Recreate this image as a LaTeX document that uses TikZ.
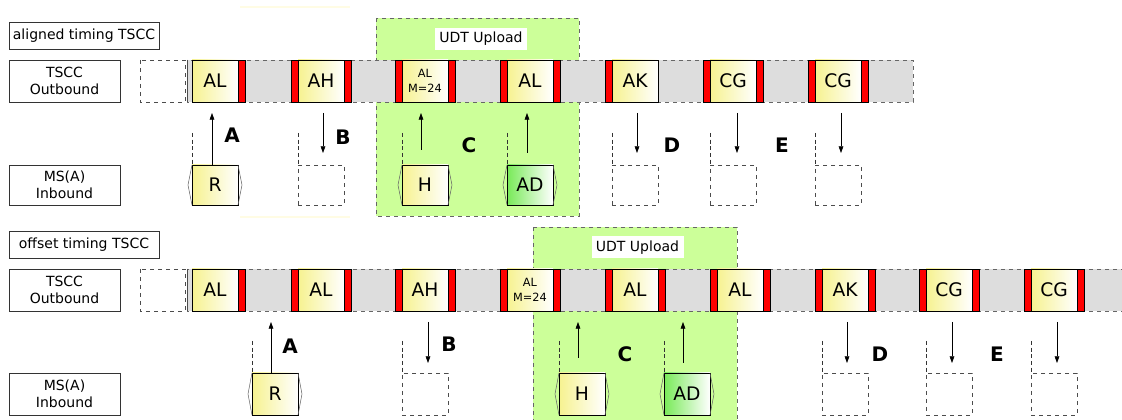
\documentclass[tikz,border=0pt]{standalone}
\usepackage{fontspec}
\setmainfont{DejaVu Sans}
\usetikzlibrary{arrows.meta}
\definecolor{lgreen}{HTML}{CCFF99}
\definecolor{barg}{HTML}{DDDDDD}
\definecolor{ylw}{HTML}{F6F290}
\definecolor{grn}{HTML}{78EA58}
\definecolor{fyel}{HTML}{FFFCE4}
\begin{document}
\begin{tikzpicture}[x=0.75pt,y=-0.75pt,
 lbl/.style={draw=black!80, fill=white, inner sep=0pt, outer sep=0pt, align=center, font=\fontsize{10.5}{12.5}\selectfont},
 ybox/.style={draw=black, left color=ylw, right color=white, minimum width=34.5pt, minimum height=31.5pt, inner sep=0pt, outer sep=0pt, font=\fontsize{14}{16}\selectfont},
 msbox/.style={ybox, minimum height=30pt},
 msbox2/.style={ybox, minimum height=31.5pt},
 gbox/.style={left color=grn},
 redbar/.style={fill=red, draw=black, line width=0.4pt},
 barstyle/.style={fill=barg, draw=black!60, dashed, line width=0.6pt},
 dbox/.style={draw=black!70, dashed, line width=0.6pt, minimum width=34.5pt, inner sep=0pt, outer sep=0pt},
 dline/.style={draw=black!80, densely dashed, line width=0.5pt},
 chev/.style={draw=black!60, line width=0.4pt},
 arr/.style={-{Triangle[length=5pt,width=3.5pt]}, line width=0.5pt},
 letter/.style={font=\bfseries\fontsize{15}{17}\selectfont},
 garea/.style={fill=lgreen, draw=black!60, dashed, line width=0.6pt},
 udt/.style={fill=white, inner sep=0pt, minimum width=69pt, minimum height=16.5pt, font=\fontsize{10.5}{12}\selectfont},
]
\useasboundingbox (0,0) rectangle (1122,420);
\clip (0,0) rectangle (1122,420);

% faint yellow lines
\fill[fyel] (240,6) rectangle (350,8);
\fill[fyel] (240,216) rectangle (350,218);

% green areas
\draw[garea] (376,18) rectangle (579,216);
\node[udt] (udt1) at (481,39) {UDT Upload};
\draw[garea] (533,227) rectangle (737,425);
\node[udt] (udt2) at (637.5,247.5) {UDT Upload};

% labels
\node[lbl, minimum width=112.5pt, minimum height=20.25pt] (lab1) at (84,35.5) {aligned timing TSCC};
\node[lbl, minimum width=83.25pt, minimum height=31.5pt] (out1) at (64.5,81) {TSCC\\Outbound};
\node[lbl, minimum width=83.25pt, minimum height=30pt] (in1) at (64.5,185) {MS(A)\\Inbound};
\node[lbl, minimum width=112.5pt, minimum height=20.25pt] (lab2) at (84,244.5) {offset timing TSCC};
\node[lbl, minimum width=83.25pt, minimum height=31.5pt] (out2) at (64.5,290) {TSCC\\Outbound};
\node[lbl, minimum width=83.25pt, minimum height=31.5pt] (in2) at (64.5,394) {MS(A)\\Inbound};

% ===== top bar =====
\draw[barstyle] (187,60) rectangle (913,102);
\draw[dbox] (140,60) rectangle (185,102);
\draw[black!70, line width=0.5pt] (187.5,60) -- (187.5,102);
\foreach \x/\t/\n/\l/\r in {192/AL/s1/0/1, 298/AH/s2/1/1, 507/AL/s4/1/1, 612/AK/s5/1/0, 710/CG/s6/1/1, 815/CG/s7/1/1}{
  \ifnum\l=1 \filldraw[redbar] (\x-7,60) rectangle (\x,102); \fi
  \ifnum\r=1 \filldraw[redbar] (\x+46,60) rectangle (\x+53,102); \fi
  \node[ybox, anchor=north west] (t\n) at (\x,60) {\t};
}
\filldraw[redbar] (395,60) rectangle (402,102);
\filldraw[redbar] (448,60) rectangle (455,102);
\node[ybox, anchor=north west, align=center, font=\fontsize{8.5}{11.5}\selectfont] (ts3) at (402,60) {AL\\M=24};

% ===== bottom bar =====
\draw[barstyle] (187,269) rectangle (1130,311);
\draw[dbox] (140,269) rectangle (185,311);
\draw[black!70, line width=0.5pt] (187.5,269) -- (187.5,311);
\foreach \x/\t/\n/\l in {192/AL/s1/0, 298/AL/s2/1, 402/AH/s3/1, 612/AL/s5/1, 717/AL/s6/1, 822/AK/s7/1, 926/CG/s8/1, 1031/CG/s9/1}{
  \ifnum\l=1 \filldraw[redbar] (\x-7,269) rectangle (\x,311); \fi
  \filldraw[redbar] (\x+46,269) rectangle (\x+53,311);
  \node[ybox, anchor=north west] (b\n) at (\x,269) {\t};
}
\filldraw[redbar] (500,269) rectangle (507,311);
\filldraw[redbar] (553,269) rectangle (560,311);
\node[ybox, anchor=north west, align=center, font=\fontsize{8.5}{11.5}\selectfont] (bs4) at (507,269) {AL\\M=24};

% ===== top MS row =====
\foreach \x in {192,298,402,507,612,710,815}{
  \draw[dline] (\x,133) -- (\x,165);
}
\node[msbox, anchor=north west] (m1R) at (192,165) {R};
\node[msbox, anchor=north west] (m1H) at (402,165) {H};
\node[msbox, gbox, anchor=north west] (m1AD) at (507,165) {AD};
\foreach \n in {m1R,m1H,m1AD}{
  \draw[chev] (\n.north west) -- ([xshift=-3pt]\n.west) -- (\n.south west);
  \draw[chev] (\n.north east) -- ([xshift=3pt]\n.east) -- (\n.south east);
}
\foreach \x/\n in {298/m1B,612/m1D,710/m1E,815/m1F}{
  \node[dbox, minimum height=30pt, anchor=north west] (\n) at (\x,165) {};
}

% ===== bottom MS row =====
\foreach \x in {252,402,559,664,822,926,1031}{
  \draw[dline] (\x,341) -- (\x,373);
}
\node[msbox2, anchor=north west] (m2R) at (252,373) {R};
\node[msbox2, anchor=north west] (m2H) at (559,373) {H};
\node[msbox2, gbox, anchor=north west] (m2AD) at (664,373) {AD};
\foreach \n in {m2R,m2H,m2AD}{
  \draw[chev] (\n.north west) -- ([xshift=-3pt]\n.west) -- (\n.south west);
  \draw[chev] (\n.north east) -- ([xshift=3pt]\n.east) -- (\n.south east);
}
\foreach \x/\n in {402/m2B,822/m2D,926/m2E,1031/m2F}{
  \node[dbox, minimum height=31.5pt, anchor=north west] (\n) at (\x,373) {};
}

% ===== top arrows =====
\coordinate (a1A) at (212,113);
\draw[arr] (m1R.north -| a1A) -- (a1A);
\coordinate (a1Hb) at (421,150); \coordinate (a1Ht) at (421,113);
\draw[arr] (a1Hb) -- (a1Ht);
\coordinate (a1ADb) at (527,153); \coordinate (a1ADt) at (527,113);
\draw[arr] (a1ADb) -- (a1ADt);
\foreach \x/\n in {323/B,637/D,737/E,841/F}{
  \coordinate (a1\n t) at (\x,113); \coordinate (a1\n b) at (\x,153);
  \draw[arr] (a1\n t) -- (a1\n b);
}
\node[letter] (l1A) at (232,135) {A};
\node[letter] (l1B) at (343,137) {B};
\node[letter] (l1C) at (469,145) {C};
\node[letter] (l1D) at (672,145) {D};
\node[letter] (l1E) at (782,145) {E};

% ===== bottom arrows =====
\coordinate (a2A) at (271,322);
\draw[arr] (m2R.north -| a2A) -- (a2A);
\coordinate (a2Hb) at (578,358); \coordinate (a2Ht) at (578,322);
\draw[arr] (a2Hb) -- (a2Ht);
\coordinate (a2ADb) at (683,363); \coordinate (a2ADt) at (683,322);
\draw[arr] (a2ADb) -- (a2ADt);
\foreach \x/\n in {428/B,847/D,952/E,1057/F}{
  \coordinate (a2\n t) at (\x,322); \coordinate (a2\n b) at (\x,363);
  \draw[arr] (a2\n t) -- (a2\n b);
}
\node[letter] (l2A) at (290,346) {A};
\node[letter] (l2B) at (449,344) {B};
\node[letter] (l2C) at (625,354) {C};
\node[letter] (l2D) at (880,354) {D};
\node[letter] (l2E) at (997,354) {E};
\end{tikzpicture}
\end{document}
